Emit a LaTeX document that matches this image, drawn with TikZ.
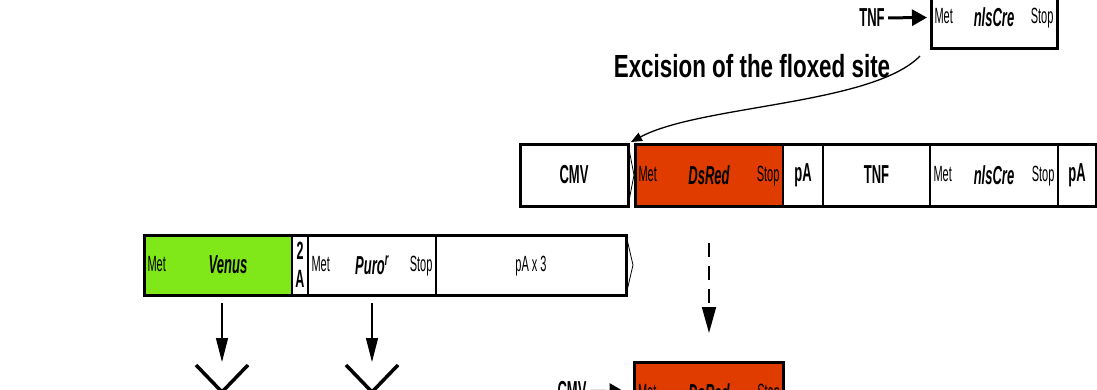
\documentclass[tikz,border=0pt]{standalone}
\usepackage{fontspec}
\setmainfont{Liberation Sans}
\newfontfamily\narrowsf[FakeStretch=0.5]{Liberation Sans}
\newfontfamily\headsf[FakeStretch=0.7]{Liberation Sans}
\usetikzlibrary{positioning,arrows.meta,calc}
\definecolor{dsredfill}{RGB}{224,60,0}
\definecolor{venusfill}{RGB}{128,232,24}
\tikzset{>={Triangle[length=24pt,width=12pt]},
  seg/.style={draw, line width=1.3pt, minimum height=62pt, inner sep=0pt, outer sep=0pt,
    font=\narrowsf\bfseries\fontsize{26}{28}\selectfont},
  tag/.style={font=\narrowsf\fontsize{22}{24}\selectfont, text height=16pt, text depth=4pt},
  withmet/.style={label={[tag,anchor=west]west:Met}},
  withstop/.style={label={[tag,anchor=east]east:Stop}},
  rowframe/.style={line width=3pt},
  promoter/.style={font=\narrowsf\bfseries\fontsize{26}{28}\selectfont},
  pushes/.style={-{Triangle[length=15pt,width=16pt]}, line width=3pt},
  vee/.style={line width=3.5pt}}

\begin{document}
\begin{tikzpicture}[x=1pt,y=-1pt]
    \useasboundingbox (0,0) rectangle (1097,389);
    \clip (0,0) rectangle (1097,389);
    % Cre under TNF
    \node[seg, minimum width=126pt, withmet, withstop] (topcre) at (994,17) {\itshape nlsCre};
    \draw[rowframe] (topcre.north west) rectangle (topcre.south east);
    \node[promoter] (toptnf) at (872,18) {TNF};
    \draw[pushes, shorten >=4pt] (toptnf) -- (topcre);
    \node[font=\headsf\bfseries\fontsize{32}{36}\selectfont] (excise) at (752,66) {Excision of the floxed site};
    % floxed cassette
    \node[seg, minimum width=108pt] (cmv) at (574,175) {CMV};
    \node[seg, minimum width=148pt, fill=dsredfill, withmet, withstop, right=7pt of cmv] (dsred) {\itshape DsRed};
    \node[seg, minimum width=40pt, right=0pt of dsred] (pa1) {pA};
    \node[seg, minimum width=107pt, right=0pt of pa1] (tnf) {TNF};
    \node[seg, minimum width=128pt, withmet, withstop, right=0pt of tnf] (cre) {\itshape nlsCre};
    \node[seg, minimum width=38pt, right=0pt of cre] (pa2) {pA};
    \draw[line width=0.8pt] (cmv.north east) -- ($(cmv.east)+(6,0)$) -- (cmv.south east);
    \draw[rowframe] (cmv.north west) rectangle (cmv.south east);
    \draw[rowframe] (dsred.north west) rectangle (pa2.south east);
    \draw[-{Triangle[length=11pt,width=9pt]}, line width=1.3pt]
        ([shift={(-11,8)}]topcre.south west) .. controls (872,105) and (700,105) .. ($(cmv.north east)+(3,-2)$);
    % after excision
    \node[seg, minimum width=149pt, fill=dsredfill, withmet, withstop, below=156pt of dsred] (dsred2) {\itshape DsRed};
    \draw[rowframe] (dsred2.north west) rectangle (dsred2.south east);
    \draw[->, >={Triangle[length=26pt,width=14pt]}, line width=1.8pt, dash pattern=on 14pt off 9pt,
        shorten <=37pt, shorten >=29pt] (dsred) -- (dsred2);
    \node[promoter] (cmv2) at (572,391) {CMV};
    \draw[pushes, shorten >=10pt] (cmv2) -- (dsred2);
    % reporter cassette
    \node[seg, minimum width=148pt, minimum height=60pt, fill=venusfill, withmet] (venus) at (218,265) {\hspace*{20pt}\itshape Venus};
    \node[seg, minimum width=16pt, minimum height=60pt, align=center,
        font=\narrowsf\bfseries\fontsize{25}{28}\selectfont, right=0pt of venus] (twoa) {2\\A};
    \node[seg, minimum width=128pt, minimum height=60pt, withmet, withstop, right=0pt of twoa] (puro) {\itshape Puro\textsuperscript{r}};
    \node[seg, minimum width=190pt, minimum height=60pt, tag, right=0pt of puro] (pa3) {pA x 3};
    \draw[line width=0.8pt] (pa3.north east) -- ($(pa3.east)+(7,0)$) -- (pa3.south east);
    \draw[rowframe] (venus.north west) rectangle (pa3.south east);
    \coordinate (venusout) at (222,362);
    \coordinate (puroout) at (372,362);
    \draw[->, line width=1.3pt, shorten <=8pt] ([xshift=4pt]venus.south) -- (venusout);
    \draw[->, line width=1.3pt, shorten <=8pt] (puro.south) -- (puroout);
    \draw[vee] (196,365) -- (222,392) -- (248,365);
    \draw[vee] (346,365) -- (372,392) -- (398,365);
\end{tikzpicture}
\end{document}
